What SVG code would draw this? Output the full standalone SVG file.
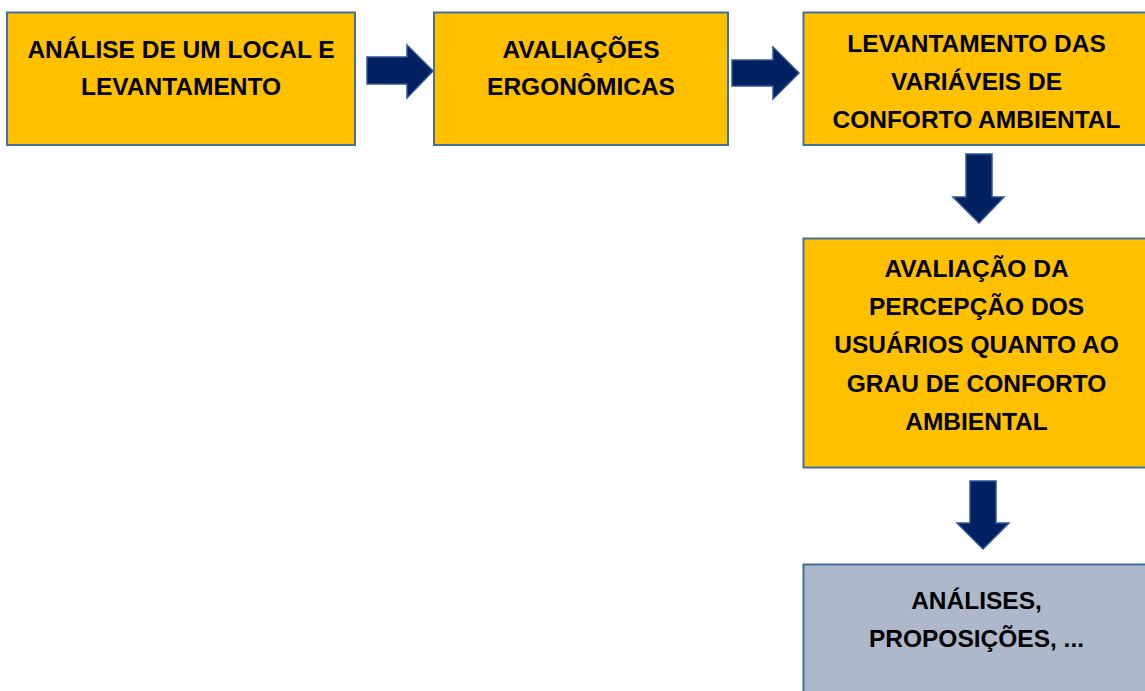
<svg xmlns="http://www.w3.org/2000/svg" width="1145" height="691" viewBox="0 0 1145 691">
<style>
.box{fill:#FFC000;stroke:#41719C;stroke-width:2}
.gray{fill:#ADB9CA;stroke:#41719C;stroke-width:2}
.arrow{fill:#002060;stroke:#2F5597;stroke-width:1.5;stroke-linejoin:miter}
text{font-family:"Liberation Sans",Arial,sans-serif;font-weight:bold;font-size:24.5px;fill:#000;text-anchor:middle}
</style>
<rect width="1145" height="691" fill="#fff"/>
<g id="connectors">
<polygon class="arrow" points="367,57 407,57 407,45 433,71 407,98 407,84 367,84"/>
<polygon class="arrow" points="732,60 773,60 773,47 799,73 773,99 773,86 732,86"/>
<polygon class="arrow" points="966,154 992,154 992,197 1004,197 979,223 953,197 966,197"/>
<polygon class="arrow" points="970,481 996,481 996,523 1009,523 983,549 957,523 970,523"/>
</g>
<g id="node1">
<rect class="box" x="7" y="12.5" width="348" height="132.5"/>
<text x="181" y="58">ANÁLISE DE UM LOCAL E</text>
<text x="181" y="95">LEVANTAMENTO</text>
</g>
<g id="node2">
<rect class="box" x="434" y="12.5" width="294" height="132.5"/>
<text x="581" y="58">AVALIAÇÕES</text>
<text x="581" y="95">ERGONÔMICAS</text>
</g>
<g id="node3">
<rect class="box" x="803.5" y="12.5" width="350" height="132.5"/>
<text x="976.5" y="52">LEVANTAMENTO DAS</text>
<text x="976.5" y="90">VARIÁVEIS DE</text>
<text x="976.5" y="128">CONFORTO AMBIENTAL</text>
</g>
<g id="node4">
<rect class="box" x="803.5" y="238.5" width="350" height="229"/>
<text x="976.5" y="277">AVALIAÇÃO DA</text>
<text x="976.5" y="315">PERCEPÇÃO DOS</text>
<text x="976.5" y="353">USUÁRIOS QUANTO AO</text>
<text x="976.5" y="392">GRAU DE CONFORTO</text>
<text x="976.5" y="430">AMBIENTAL</text>
</g>
<g id="node5">
<rect class="gray" x="803.5" y="564.5" width="350" height="140"/>
<text x="976.5" y="609">ANÁLISES,</text>
<text x="976.5" y="647">PROPOSIÇÕES, ...</text>
</g>
</svg>
